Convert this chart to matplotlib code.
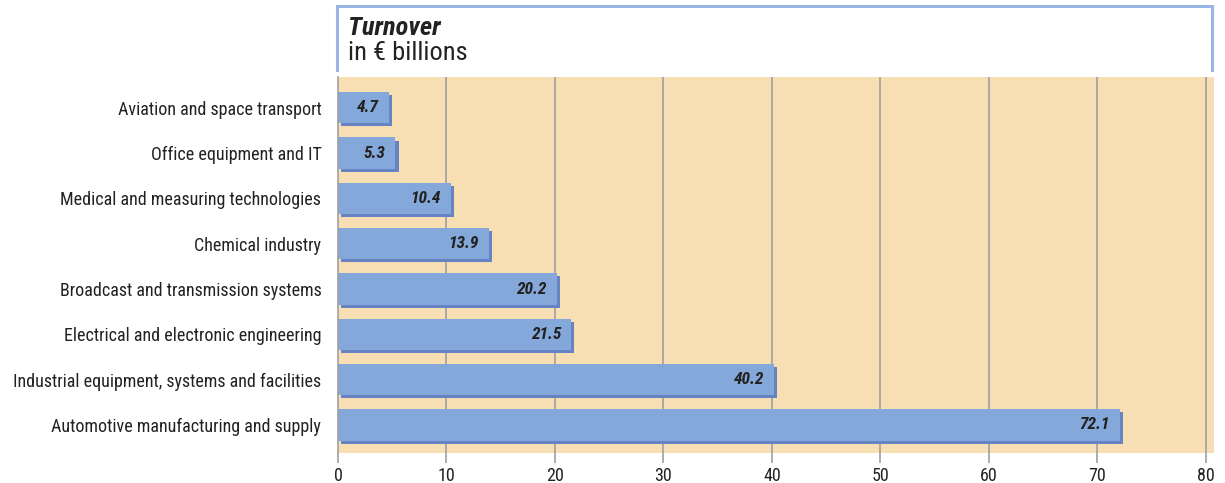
import matplotlib
matplotlib.use("Agg")
import matplotlib.pyplot as plt
import matplotlib.patheffects as pe
from matplotlib.lines import Line2D

plt.rcParams['font.family'] = ['Roboto Condensed', 'DejaVu Sans']

# Turnover per sector, in EUR billions (top to bottom as shown)
sectors = [
    "Aviation and space transport",
    "Office equipment and IT",
    "Medical and measuring technologies",
    "Chemical industry",
    "Broadcast and transmission systems",
    "Electrical and electronic engineering",
    "Industrial equipment, systems and facilities",
    "Automotive manufacturing and supply",
]
turnover = [4.7, 5.3, 10.4, 13.9, 20.2, 21.5, 40.2, 72.1]
x_ticks = [0, 10, 20, 30, 40, 50, 60, 70, 80]

BG = '#f8dfb3'
BAR = '#84a8d9'
SHADOW = '#6683c4'
GRID = '#a0a0a0'
FRAME = '#9ab6e4'
TEXT = '#222222'

fig = plt.figure(figsize=(12.25, 4.83), dpi=100)
ax = fig.add_axes([338 / 1225, 30 / 483, 876 / 1225, 376 / 483])
ax.set_facecolor(BG)

n = len(sectors)
ypos = list(range(n - 1, -1, -1))

bars = ax.barh(ypos, turnover, height=0.69, color=BAR, zorder=3)
for b in bars:
    b.set_path_effects([pe.SimplePatchShadow(offset=(2.2, -2.2), shadow_rgbFace=SHADOW, alpha=1.0),
                        pe.Normal()])

for y, v in zip(ypos, turnover):
    ax.text(v - 0.95, y, f"{v:.1f}", ha='right', va='center', fontsize=12.5,
            fontweight='bold', fontstyle='italic', color=TEXT, zorder=4)

ax.set_xlim(0, 80.75)
ax.set_ylim(-0.62, n - 1 + 0.68)
ax.set_xticks(x_ticks)
ax.set_xticklabels([str(t) for t in x_ticks], fontsize=13, color=TEXT)
ax.set_yticks(ypos)
ax.set_yticklabels(sectors, fontsize=13, color=TEXT)
ax.tick_params(axis='y', length=0, pad=12)
ax.tick_params(axis='x', length=7, width=1.2, color=GRID, pad=3)

for t in x_ticks[1:]:
    ax.axvline(t, color=GRID, lw=1.2, zorder=1)

for s in ['top', 'right', 'bottom']:
    ax.spines[s].set_visible(False)
ax.spines['left'].set_color(GRID)
ax.spines['left'].set_linewidth(1.2)
ax.spines['left'].set_zorder(5)

# title box above the plot area, open at the bottom
x0, x1 = 337 / 1225, 1212 / 1225
y0, y1 = 1 - 70 / 483, 1 - 6 / 483
fig.add_artist(Line2D([x0, x0, x1, x1], [y0, y1, y1, y0], transform=fig.transFigure,
                      color=FRAME, lw=2.2, solid_joinstyle='miter'))
fig.text(348 / 1225, 1 - 28 / 483, "Turnover", fontsize=19, fontweight='bold',
         fontstyle='italic', color=TEXT, va='center', ha='left')
fig.text(348 / 1225, 1 - 53 / 483, "in \u20ac billions", fontsize=19,
         color=TEXT, va='center', ha='left')

fig.savefig("out.png", dpi=100)
